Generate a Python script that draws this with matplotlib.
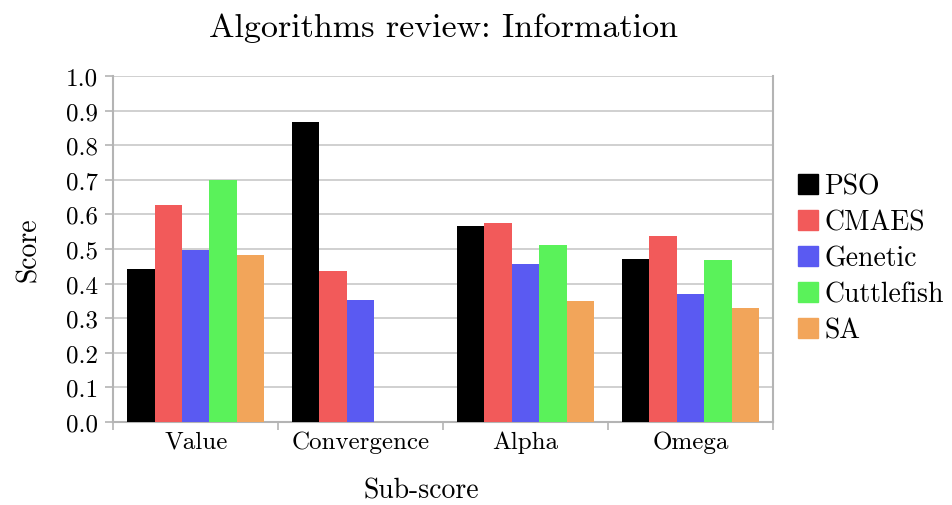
import numpy as np
import matplotlib
matplotlib.use('Agg')
import matplotlib.pyplot as plt
from matplotlib.lines import Line2D

plt.rcParams['font.family'] = 'cmr10'
plt.rcParams['mathtext.fontset'] = 'cm'
plt.rcParams['axes.unicode_minus'] = False

categories = ['Value', 'Convergence', 'Alpha', 'Omega']
algorithms = ['PSO', 'CMAES', 'Genetic', 'Cuttlefish', 'SA']
pso = [0.443, 0.868, 0.567, 0.472]
cmaes = [0.628, 0.437, 0.576, 0.538]
genetic = [0.498, 0.353, 0.457, 0.371]
cuttlefish = [0.699, 0.0, 0.512, 0.469]
sa = [0.484, 0.0, 0.350, 0.328]
colors = ['#000000', '#f25a5a', '#5a5af2', '#5af25a', '#f2a55a']

series = [pso, cmaes, genetic, cuttlefish, sa]

fig = plt.figure(figsize=(9.52, 5.06), dpi=100)
ax = fig.add_axes([0.119, 0.164, 0.693, 0.684])

x = np.arange(len(categories))
w = 1.0 / 6
for i, (vals, c) in enumerate(zip(series, colors)):
  ax.bar(x + (i - 2) * w, vals, width=w, color=c, zorder=3)

ax.set_xlim(-0.5, len(categories) - 0.5)
ax.set_ylim(0, 1.0)
ax.set_yticks(np.arange(0, 1.01, 0.1))
ax.set_yticklabels(['%.1f' % v for v in np.arange(0, 1.01, 0.1)])
ax.yaxis.grid(True, color='#c8c8c8', linewidth=1.2, zorder=0)

# category labels centred, tick marks on the boundaries
ax.set_xticks(np.arange(-0.5, len(categories), 1.0))
ax.set_xticklabels([])
ax.set_xticks(x, minor=True)
ax.set_xticklabels(categories, minor=True)
ax.tick_params(axis='x', which='minor', length=0, labelsize=18, pad=6)
ax.tick_params(axis='x', which='major', length=6, color='#b4b4b4', width=1.2)
ax.tick_params(axis='y', length=6, color='#b4b4b4', width=1.2, labelsize=18, pad=5)

for s in ['left', 'right', 'bottom']:
  ax.spines[s].set_color('#b4b4b4')
  ax.spines[s].set_linewidth(1.5)
ax.spines['top'].set_visible(False)

ax.set_xlabel('Sub-score', fontsize=20, va='center')
ax.xaxis.set_label_coords(0.467, -0.197)
ax.set_ylabel('Score', fontsize=20, labelpad=17)
ax.set_title('Algorithms review: Information', fontsize=24.5, pad=29)

handles = [Line2D([], [], marker='s', linestyle='none', markersize=15,
                  markerfacecolor=c, markeredgecolor=c) for c in colors]
ax.legend(handles, algorithms, loc='center left', bbox_to_anchor=(1.0, 0.472),
          frameon=False, fontsize=20, handletextpad=0.1, labelspacing=0.35,
          handlelength=1.0, borderaxespad=0.35)

fig.savefig('out.png', dpi=100)
